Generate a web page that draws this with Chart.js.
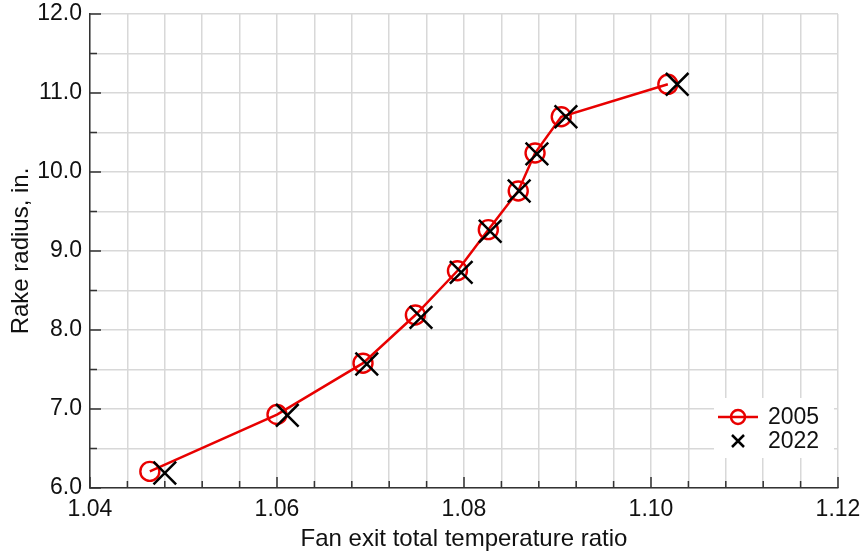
<!DOCTYPE html>
<html>
<head>
<meta charset="utf-8">
<script src="https://cdn.jsdelivr.net/npm/chart.js@4.4.1/dist/chart.umd.min.js"></script>
<style>
  html, body { margin: 0; padding: 0; background: #fff; }
  #wrap { width: 862px; height: 557px; }
</style>
</head>
<body>
<div id="wrap"><canvas id="chart"></canvas></div>
<script>
// data
const seriesNames = ['2005', '2022'];
const ratio2005 = [1.0464, 1.0600, 1.0692, 1.0748, 1.0793, 1.0826, 1.0858, 1.0876, 1.0904, 1.1018];
const radius2005 = [6.21, 6.93, 7.58, 8.19, 8.75, 9.27, 9.76, 10.24, 10.70, 11.11];
const ratio2022 = [1.0480, 1.0611, 1.0696, 1.0754, 1.0797, 1.0828, 1.0859, 1.0878, 1.0909, 1.1028];
const radius2022 = [6.19, 6.92, 7.57, 8.16, 8.73, 9.25, 9.76, 10.23, 10.70, 11.11];
const xTickLabels = ['1.04', '1.06', '1.08', '1.10', '1.12'];
const yTickLabels = ['6.0', '7.0', '8.0', '9.0', '10.0', '11.0', '12.0'];

const FONT = '"Liberation Sans", Arial, Helvetica, sans-serif';
const RED = 'rgb(232, 0, 0)';
const INK = '#111';

function majorLabel(value, labels, digits) {
  const s = value.toFixed(digits);
  return labels.includes(s) && Math.abs(value - parseFloat(s)) < 1e-6 ? s : '';
}

// short tick marks pointing into the plot
const innerTicks = {
  id: 'innerTicks',
  beforeDatasetsDraw(chart) {
    const { ctx, chartArea: a, scales: { x, y } } = chart;
    ctx.save();
    ctx.strokeStyle = '#333';
    ctx.lineWidth = 1.5;
    ctx.beginPath();
    x.ticks.forEach(t => {
      const px = x.getPixelForValue(t.value);
      const len = t.label ? 11 : 7;
      ctx.moveTo(px, a.bottom);
      ctx.lineTo(px, a.bottom - len);
    });
    y.ticks.forEach(t => {
      const py = y.getPixelForValue(t.value);
      const len = t.label ? 11 : 7;
      ctx.moveTo(a.left, py);
      ctx.lineTo(a.left + len, py);
    });
    ctx.stroke();
    ctx.restore();
  }
};

// legend box in the lower right corner of the plot
const cornerLegend = {
  id: 'cornerLegend',
  afterDraw(chart) {
    const { ctx, chartArea: a } = chart;
    const bx = a.right - 124, by = a.bottom - 90;
    ctx.save();
    ctx.fillStyle = '#fff';
    ctx.fillRect(bx, by, 120, 60);

    const sx = bx + 24, y1 = by + 19, y2 = by + 43;
    ctx.strokeStyle = RED;
    ctx.lineWidth = 2.5;
    ctx.beginPath();
    ctx.moveTo(sx - 20, y1);
    ctx.lineTo(sx + 20, y1);
    ctx.stroke();
    ctx.beginPath();
    ctx.arc(sx, y1, 7, 0, Math.PI * 2);
    ctx.stroke();

    ctx.strokeStyle = '#000';
    ctx.beginPath();
    ctx.moveTo(sx - 6, y2 - 6); ctx.lineTo(sx + 6, y2 + 6);
    ctx.moveTo(sx + 6, y2 - 6); ctx.lineTo(sx - 6, y2 + 6);
    ctx.stroke();

    ctx.fillStyle = INK;
    ctx.font = '23px ' + FONT;
    ctx.textBaseline = 'middle';
    ctx.textAlign = 'left';
    ctx.fillText(seriesNames[0], sx + 30, y1 + 1);
    ctx.fillText(seriesNames[1], sx + 30, y2 + 1);
    ctx.restore();
  }
};

new Chart(document.getElementById('chart'), {
  type: 'scatter',
  data: {
    datasets: [
      {
        label: seriesNames[1],
        data: ratio2022.map((v, i) => ({ x: v, y: radius2022[i] })),
        showLine: false,
        pointStyle: 'crossRot',
        pointRadius: 16,
        borderColor: '#000',
        backgroundColor: '#000',
        pointBorderWidth: 2.5,
        order: 0
      },
      {
        label: seriesNames[0],
        data: ratio2005.map((v, i) => ({ x: v, y: radius2005[i] })),
        showLine: true,
        tension: 0,
        borderColor: RED,
        borderWidth: 2.5,
        pointStyle: 'circle',
        pointRadius: 9.5,
        pointBorderWidth: 2.4,
        pointBorderColor: RED,
        pointBackgroundColor: 'rgba(0,0,0,0)',
        order: 1
      }
    ]
  },
  options: {
    responsive: true,
    maintainAspectRatio: false,
    animation: false,
    layout: { autoPadding: false, padding: { top: 14, right: 24, left: 0, bottom: 0 } },
    plugins: {
      legend: { display: false },
      tooltip: { enabled: false }
    },
    scales: {
      x: {
        type: 'linear',
        min: 1.04,
        max: 1.12,
        afterFit: s => { s.height = 69; s.paddingLeft = 0; s.paddingRight = 0; },
        grid: { color: '#d8d8d8', lineWidth: 1.5, drawTicks: false },
        border: { color: '#333', width: 1.5 },
        ticks: {
          stepSize: 0.004,
          autoSkip: false,
          maxRotation: 0,
          padding: 8,
          color: INK,
          font: { family: FONT, size: 23 },
          callback: v => majorLabel(v, xTickLabels, 2)
        },
        title: {
          display: true,
          text: 'Fan exit total temperature ratio',
          color: INK,
          font: { family: FONT, size: 24 },
          padding: { top: 0, bottom: 3 }
        }
      },
      y: {
        type: 'linear',
        min: 6,
        max: 12,
        afterFit: s => { s.width = 90; s.paddingTop = 0; s.paddingBottom = 0; },
        grid: { color: '#d8d8d8', lineWidth: 1.5, drawTicks: false },
        border: { color: '#333', width: 1.5 },
        ticks: {
          stepSize: 0.5,
          autoSkip: false,
          padding: 8,
          color: INK,
          font: { family: FONT, size: 23 },
          callback: v => majorLabel(v, yTickLabels, 1)
        },
        title: {
          display: true,
          text: 'Rake radius, in.',
          color: INK,
          font: { family: FONT, size: 24 },
          padding: { top: 7, bottom: 0 }
        }
      }
    }
  },
  plugins: [innerTicks, cornerLegend]
});
</script>
</body>
</html>
